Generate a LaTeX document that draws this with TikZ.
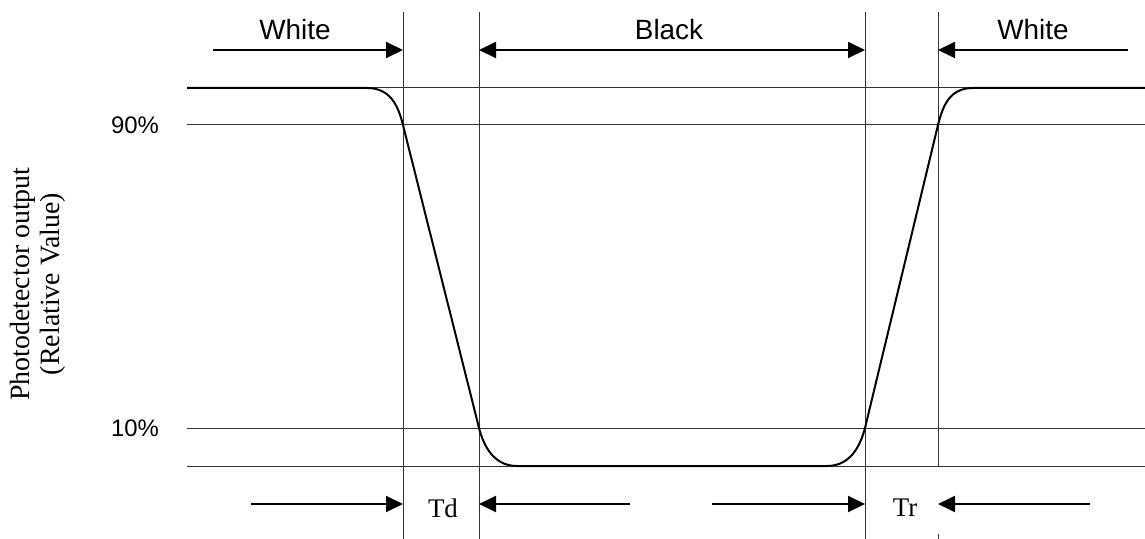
\documentclass[tikz,border=0pt]{standalone}
\usepackage{fontspec}
\setmainfont{Liberation Serif}
\newfontfamily\labfont{Liberation Sans}
\usetikzlibrary{arrows.meta}
\begin{document}
\begin{tikzpicture}[x=1bp,y=-1bp,
  guide/.style={line width=1bp,draw=black!80},
  signal/.style={line width=2bp,draw=black},
  dimarrow/.style={line width=2bp,-{Triangle[length=17bp,width=16bp]}},
  dimboth/.style={line width=2bp,{Triangle[length=17bp,width=16bp]}-{Triangle[length=17bp,width=16bp]}},
  toplabel/.style={font=\labfont\fontsize{28}{30}\selectfont,inner sep=0pt},
  pctlabel/.style={font=\labfont\fontsize{24}{26}\selectfont,inner sep=0pt},
  timelabel/.style={font=\fontsize{27}{30}\selectfont,inner sep=0pt}]
\useasboundingbox (0,0) rectangle (1145,539);
% key coordinates
\coordinate (a1) at (403,12);
\coordinate (a2) at (403,539);
\coordinate (b1) at (479,12);
\coordinate (b2) at (479,539);
\coordinate (c1) at (865,12);
\coordinate (c2) at (865,539);
\coordinate (d1) at (938,12);
\coordinate (d2) at (938,466);
\coordinate (d3) at (938,534);
\coordinate (d4) at (938,539);
% vertical guides
\draw[guide] (a1) -- (a2);
\draw[guide] (b1) -- (b2);
\draw[guide] (c1) -- (c2);
\draw[guide] (d1) -- (d2);
\draw[guide] (d3) -- (d4);
% horizontal guides
\coordinate (h1l) at (187,88);  \coordinate (h1r) at (1145,88);
\coordinate (h2l) at (187,125); \coordinate (h2r) at (1145,125);
\coordinate (h3l) at (187,428); \coordinate (h3r) at (1145,428);
\coordinate (h4l) at (187,466); \coordinate (h4r) at (1145,466);
\draw[guide] (h1l) -- (h1r);
\draw[guide] (h2l) -- (h2r);
\draw[guide] (h3l) -- (h3r);
\draw[guide] (h4l) -- (h4r);
% signal
\draw[signal] (187,88) -- (367,88) .. controls (390,88) and (398,105) .. (403,125)
  -- (479,428) .. controls (483,443) and (492,466) .. (517,466)
  -- (827,466) .. controls (852,466) and (861,443) .. (865,428)
  -- (938,125) .. controls (943,105) and (950,88) .. (973,88) -- (1145,88);
% top dimension arrows
\coordinate (tw1) at (213,50);
\coordinate (tw2) at (403,50);
\coordinate (tb1) at (479,50);
\coordinate (tb2) at (865,50);
\coordinate (tr1) at (1128,50);
\coordinate (tr2) at (938,50);
\draw[dimarrow] (tw1) -- (tw2);
\draw[dimboth] (tb1) -- (tb2);
\draw[dimarrow] (tr1) -- (tr2);
\node[toplabel] (whiteL) at (295,30) {White};
\node[toplabel] (blackL) at (669,30) {Black};
\node[toplabel] (whiteR) at (1033,30) {White};
% bottom time arrows
\coordinate (bd1) at (251,504);
\coordinate (bd2) at (403,504);
\coordinate (bd3) at (630,504);
\coordinate (bd4) at (479,504);
\coordinate (br1) at (712,504);
\coordinate (br2) at (865,504);
\coordinate (br3) at (1090,504);
\coordinate (br4) at (938,504);
\draw[dimarrow] (bd1) -- (bd2);
\draw[dimarrow] (bd3) -- (bd4);
\draw[dimarrow] (br1) -- (br2);
\draw[dimarrow] (br3) -- (br4);
\node[timelabel] (td) at (443,508) {Td};
\node[timelabel] (tr) at (905,508) {Tr};
% percent labels
\node[pctlabel] (p90) at (135,125) {90\%};
\node[pctlabel] (p10) at (135,428) {10\%};
% y axis label
\node[rotate=90,align=center,inner sep=0pt,font=\fontsize{28}{30}\selectfont] (ylab) at (38,284) {Photodetector output\\(Relative Value)};
\end{tikzpicture}
\end{document}
